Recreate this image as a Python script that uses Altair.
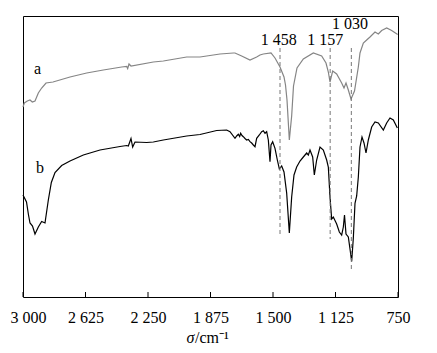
import altair as alt
import pandas as pd

# ---- data ----
a_wn = [3000, 2992, 2974, 2958, 2944, 2928, 2908, 2888, 2862, 2820,
        2718, 2618, 2518, 2408, 2378, 2372, 2364, 2352, 2218, 2158,
        2018, 1938, 1818, 1738, 1728, 1688, 1638, 1598, 1578, 1558,
        1512, 1488, 1458, 1434, 1425, 1416, 1402, 1388, 1377, 1356,
        1318, 1258, 1208, 1182, 1168, 1158, 1142, 1118, 1088, 1074,
        1062, 1048, 1032, 1011, 988, 978, 958, 938, 918, 888,
        868, 848, 818, 788, 752]
a_T = [190, 194, 196, 197, 195, 196, 204, 209, 214, 215,
       220, 224, 227, 230, 230.5, 228.5, 233, 231, 235, 236,
       240, 240, 243, 244, 244, 241, 237, 240, 242, 243,
       244, 239, 230, 220, 212, 197, 157, 181, 211, 229,
       238, 244, 241, 234, 225, 215, 226, 223, 214, 209,
       214, 207, 198, 206, 230, 244, 254, 257, 260, 265,
       263, 266.5, 269, 266.5, 262.5]

b_wn = [3000, 2979, 2967, 2958, 2943, 2928, 2908, 2888, 2868, 2848,
        2830, 2808, 2768, 2718, 2638, 2538, 2418, 2378, 2368, 2352,
        2342, 2328, 2258, 2218, 2158, 2018, 1938, 1838,
        1778, 1758, 1728, 1718, 1708, 1700, 1694, 1686, 1678, 1668,
        1658, 1648, 1638, 1628, 1618, 1608, 1598, 1582, 1568, 1558,
        1548, 1538, 1528, 1518, 1512, 1502, 1488, 1474,
        1462, 1448, 1434, 1418,
        1402, 1388, 1374, 1358, 1338, 1318, 1298, 1288, 1278, 1262,
        1252, 1238, 1218, 1198, 1178, 1168, 1158, 1148, 1138, 1118,
        1102, 1088, 1078, 1071, 1062, 1048, 1038, 1028, 1018, 1008,
        998, 988, 978, 966, 954, 942, 928, 908, 888, 868,
        838, 818, 798, 778, 754]
b_T = [102, 95, 82, 74, 71, 63, 70, 75.5, 74, 97,
       114.5, 124.5, 131.5, 136, 142, 147, 150.5, 151.5, 151, 158.5,
       150, 155, 154.5, 155, 157, 161, 162.5, 166.5,
       167, 165.3, 158.7, 161, 162.7, 160.5, 163.7, 161.5, 160.3, 158.5,
       157, 157.5, 155.3, 154, 152, 150.3, 158.7, 162, 165.3, 166.3,
       163.7, 165.3, 157, 135.3, 152, 155.3, 148.7, 137,
       128, 131, 125, 104,
       64, 100, 122, 130, 136, 140, 144, 142, 147, 140,
       122, 137, 150, 147, 137, 130, 100, 78, 80, 73,
       65, 62, 70, 82, 63, 60, 48, 35.5, 59, 93.7,
       101, 120, 150, 160, 154, 144, 157, 170, 175, 174,
       167, 174, 179, 177, 169]

tick_values = [3000, 2625, 2250, 1875, 1500, 1125, 750]

peak_wn = [1458, 1157, 1030]
peak_top = [249, 249, 249]
peak_bottom = [61, 58, 28]
peak_labels = ["1 458", "1 157", "1 030"]
peak_label_wn = [1466, 1186, 1038]
peak_label_T = [252, 252, 268]

curve_names = ["a", "b"]
curve_label_wn = [2912, 2898]
curve_label_T = [223, 124]

title_parts = ["σ", "/cm⁻¹"]

# ---- chart ----
W, H = 375, 281
FONT = "Liberation Serif"
xs = alt.Scale(domain=[750, 3000], reverse=True, nice=False, zero=False)
ys = alt.Scale(domain=[0, 281], nice=False, zero=False)

df = pd.DataFrame({
    "wn": a_wn + b_wn,
    "T": a_T + b_T,
    "s": ["a"] * len(a_wn) + ["b"] * len(b_wn),
})

lines = alt.Chart(df).mark_line(strokeWidth=1.2).encode(
    x=alt.X("wn:Q", scale=xs, axis=alt.Axis(
        values=tick_values, ticks=False, domain=False, grid=False, title=None,
        labelExpr="replace(format(datum.value, ','), ',', ' ')",
        labelFont=FONT, labelFontSize=16, labelColor="black", labelPadding=12,
        labelOverlap=False, labelFlush=False,
        labelOffset={"condition": {"test": "datum.value === 3000", "value": 5}, "value": 0},
    )),
    y=alt.Y("T:Q", scale=ys, axis=None),
    color=alt.Color("s:N", scale=alt.Scale(domain=["a", "b"], range=["#858585", "#000000"]), legend=None),
)

ticks = alt.Chart(pd.DataFrame({"wn": tick_values})).mark_rule(color="black", strokeWidth=1).encode(
    x=alt.X("wn:Q", scale=xs),
    y=alt.value(H),
    y2=alt.value(H - 5),
)

peaks_df = pd.DataFrame({"wn": peak_wn, "top": peak_top, "bottom": peak_bottom})
dashes = alt.Chart(peaks_df).mark_rule(color="#777777", strokeWidth=1, strokeDash=[4, 3]).encode(
    x=alt.X("wn:Q", scale=xs),
    y=alt.Y("top:Q", scale=ys),
    y2="bottom:Q",
)

plab_df = pd.DataFrame({"wn": peak_label_wn, "T": peak_label_T, "t": peak_labels})
plabels = alt.Chart(plab_df).mark_text(font=FONT, fontSize=16, baseline="alphabetic", align="center", color="black").encode(
    x=alt.X("wn:Q", scale=xs), y=alt.Y("T:Q", scale=ys), text="t:N")

clab_df = pd.DataFrame({"wn": curve_label_wn, "T": curve_label_T, "t": curve_names})
clabels = alt.Chart(clab_df).mark_text(font=FONT, fontSize=16, baseline="alphabetic", align="center", color="black").encode(
    x=alt.X("wn:Q", scale=xs), y=alt.Y("T:Q", scale=ys), text="t:N")

t1 = alt.Chart(pd.DataFrame({"t": [title_parts[0]]})).mark_text(
    font=FONT, fontSize=16, fontStyle="italic", baseline="alphabetic", align="right", color="black"
).encode(x=alt.value(171.5), y=alt.value(327), text="t:N")
t2 = alt.Chart(pd.DataFrame({"t": [title_parts[1]]})).mark_text(
    font=FONT, fontSize=16, baseline="alphabetic", align="left", color="black"
).encode(x=alt.value(172), y=alt.value(327), text="t:N")

chart = alt.layer(lines, ticks, dashes, plabels, clabels, t1, t2).properties(
    width=W, height=H,
    autosize=alt.AutoSizeParams(type="none"),
    padding={"left": 15, "top": 8, "right": 31, "bottom": 48},
    background="white",
).configure_view(stroke="black", strokeWidth=1)

chart.save("out.html", embed_options={"renderer": "svg", "actions": False})
